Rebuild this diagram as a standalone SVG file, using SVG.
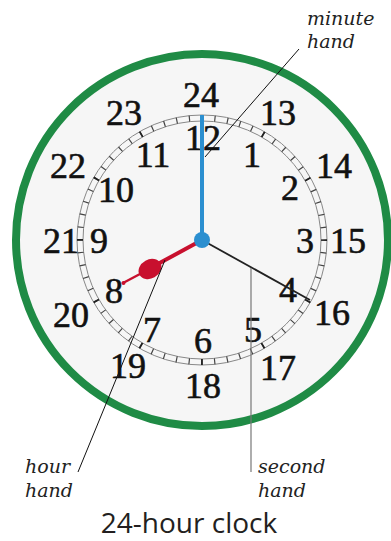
<svg xmlns="http://www.w3.org/2000/svg" width="391" height="541" viewBox="0 0 391 541">
<defs>
<style>
.num{font-family:"Liberation Serif","Times New Roman",serif;font-size:36px;fill:#111;stroke:#111;stroke-width:0.6;text-anchor:middle}
.lbl{font-family:"DejaVu Serif",serif;font-style:italic;font-size:19px;fill:#222}
.title{font-family:"Open Sans",sans-serif;font-size:28px;fill:#231f20;text-anchor:middle}
.callout{stroke:#111;stroke-width:1;fill:none}
</style>
</defs>
<rect width="391" height="541" fill="#fff"/>
<g id="clock-face">
<circle cx="202" cy="240" r="186" fill="#f6f6f6" stroke="#1f8b45" stroke-width="8"/>
</g>
<g id="minute-track" fill="none">
<circle cx="202" cy="240" r="125" stroke="#888" stroke-width="1"/>
<circle cx="202" cy="240" r="119" stroke="#888" stroke-width="1"/>
<circle cx="202" cy="240" r="122" stroke="#444" stroke-width="6" stroke-dasharray="1.2 11.575" stroke-dashoffset="0.6"/>
<circle cx="202" cy="240" r="122" stroke="#222" stroke-width="6" stroke-dasharray="1.8 62.075" stroke-dashoffset="0.9"/>
</g>
<g id="numbers-24h">
<text class="num" x="201" y="107">24</text>
<text class="num" x="278" y="125">13</text>
<text class="num" x="334" y="178">14</text>
<text class="num" x="348" y="253">15</text>
<text class="num" x="332" y="325">16</text>
<text class="num" x="278" y="380">17</text>
<text class="num" x="203" y="398">18</text>
<text class="num" x="128" y="378">19</text>
<text class="num" x="71" y="327">20</text>
<text class="num" x="61" y="253">21</text>
<text class="num" x="68" y="178">22</text>
<text class="num" x="124" y="125">23</text>
</g>
<g id="numbers-12h">
<text class="num" x="203" y="150">12</text>
<text class="num" x="252" y="167">1</text>
<text class="num" x="290" y="200">2</text>
<text class="num" x="305" y="253">3</text>
<text class="num" x="288" y="302">4</text>
<text class="num" x="253" y="342">5</text>
<text class="num" x="203" y="353">6</text>
<text class="num" x="152" y="342">7</text>
<text class="num" x="114" y="303">8</text>
<text class="num" x="99" y="253">9</text>
<text class="num" x="116" y="202">10</text>
<text class="num" x="153" y="167">11</text>
</g>
<g id="hour-hand" fill="#c8102e" stroke="#c8102e" stroke-linecap="round">
<line x1="202" y1="240" x2="155" y2="265.6" stroke-width="4"/>
<ellipse cx="150" cy="269" rx="12" ry="9.5" transform="rotate(-28.6 150 269)" stroke="none"/>
<line x1="140" y1="274" x2="123" y2="283" stroke-width="2.5"/>
<circle cx="123.5" cy="283" r="2" stroke="none"/>
</g>
<g id="minute-hand">
<line x1="202" y1="240" x2="202" y2="115" stroke="#2b8fd0" stroke-width="4"/>
</g>
<g id="second-hand">
<line x1="202" y1="240" x2="310" y2="300" stroke="#222" stroke-width="1.8"/>
</g>
<g id="hub">
<circle cx="202" cy="240" r="8" fill="#2b8fd0"/>
</g>
<g id="connectors">
<line class="callout" x1="299" y1="49" x2="205" y2="157"/>
<line class="callout" x1="165" y1="260" x2="78" y2="472"/>
<line x1="251" y1="268" x2="251" y2="472" stroke="#777" stroke-width="1.2"/>
</g>
<g id="label-minute">
<text class="lbl" x="307" y="25">minute</text>
<text class="lbl" x="307" y="48">hand</text>
</g>
<g id="label-hour">
<text class="lbl" x="25" y="473">hour</text>
<text class="lbl" x="25" y="497">hand</text>
</g>
<g id="label-second">
<text class="lbl" x="258" y="473">second</text>
<text class="lbl" x="258" y="497">hand</text>
</g>
<g id="title">
<text class="title" x="189" y="533">24-hour clock</text>
</g>
</svg>
